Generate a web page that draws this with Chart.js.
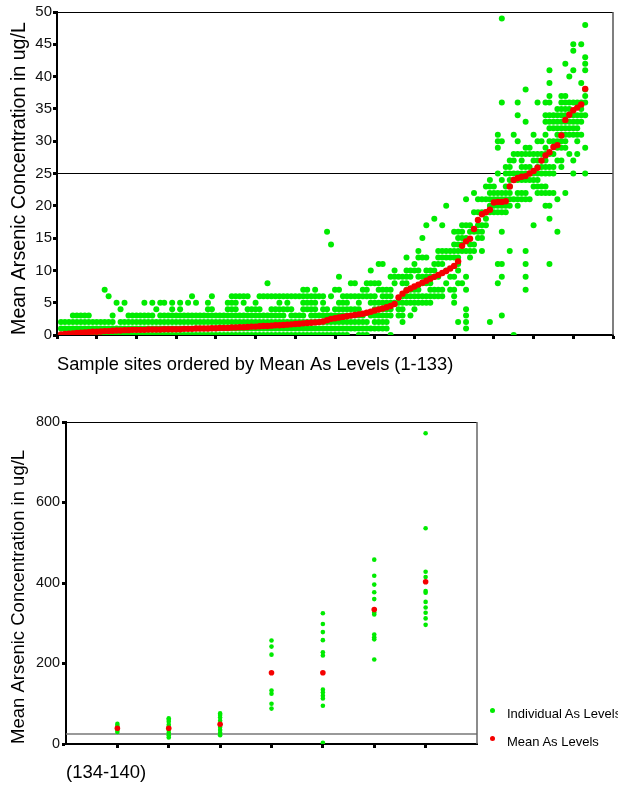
<!DOCTYPE html>
<html>
<head>
<meta charset="utf-8">
<title>Arsenic levels per sample site</title>
<script src="https://cdn.jsdelivr.net/npm/chart.js@4.4.1/dist/chart.umd.min.js"></script>
<style>
  html, body { margin: 0; padding: 0; background: #fff; }
  body { width: 618px; height: 789px; position: relative; overflow: hidden; font-family: "Liberation Sans", Arial, sans-serif; }
  #top-box { position: absolute; left: 0; top: 0; width: 618px; height: 395px; }
  #bottom-box { position: absolute; left: 0; top: 400px; width: 618px; height: 389px; }
  #legend { position: absolute; left: 490px; top: 699px; font-size: 13px; color: #000; white-space: nowrap; }
  .legend-item { display: flex; align-items: center; height: 28px; }
  .legend-dot { width: 5px; height: 5px; border-radius: 50%; margin-right: 12px; transform: translateY(-3px); }
</style>
</head>
<body>
<div id="top-box"><canvas id="js--chart--sites"></canvas></div>
<div id="bottom-box"><canvas id="js--chart--high"></canvas></div>
<div id="legend"></div>
<script>
// sites 1-133, mean arsenic (ug/L) per site, ordered
const meanLevels = [
  0.1, 0.15, 0.2, 0.25, 0.3, 0.35, 0.4, 0.45, 0.5, 0.5,
  0.55, 0.6, 0.6, 0.65, 0.7, 0.7, 0.75, 0.75, 0.8, 0.8,
  0.8, 0.8, 0.85, 0.85, 0.85, 0.85, 0.9, 0.9, 0.9, 0.9,
  0.9, 0.95, 0.95, 0.95, 1.0, 1.0, 1.0, 1.0, 1.05, 1.05,
  1.1, 1.1, 1.1, 1.15, 1.15, 1.2, 1.2, 1.25, 1.3, 1.3,
  1.35, 1.4, 1.4, 1.45, 1.5, 1.5, 1.55, 1.6, 1.65, 1.7,
  1.75, 1.8, 1.85, 1.9, 1.95, 2.0, 2.1, 2.3, 2.5, 2.6,
  2.7, 2.8, 2.9, 3.0, 3.1, 3.2, 3.3, 3.45, 3.6, 3.8,
  3.95, 4.1, 4.3, 4.5, 4.8, 5.8, 6.4, 6.9, 7.2, 7.5,
  7.8, 8.1, 8.4, 8.7, 9.0, 9.3, 9.6, 9.9, 10.3, 10.7,
  11.4, 13.8, 14.5, 14.9, 16.4, 17.8, 18.7, 19.0, 19.4, 20.5,
  20.6, 20.6, 20.7, 23.0, 24.0, 24.3, 24.5, 24.6, 25.0, 25.4,
  25.9, 27.0, 27.8, 28.3, 29.1, 29.4, 30.9, 33.3, 34.1, 34.8,
  35.2, 35.7, 38.1
];

// individual samples per site (same order as meanLevels)
const individualLevels = [
  [0,1,2], [0,1,2], [0,1,2], [0,1,2,3], [0,1,2,3],
  [0,1,2,3], [0,1,2,3], [0,1,2,3], [0,1,2], [0,1,2],
  [0,1,2], [0,1,2,7], [0,1,2,6], [0,1,2,3], [0,1,5],
  [0,1,2,4], [0,1,2,5], [0,1,2,3], [0,1,2,3], [0,1,2,3],
  [0,1,2,3], [0,1,2,3,5], [0,1,2,3], [0,1,2,3,5], [0,1,2,4],
  [0,1,2,3,5], [0,1,2,3,5], [0,1,2,3], [0,1,2,3,4,5], [0,1,2,3],
  [0,1,2,3,4,5], [0,1,2,3], [0,1,2,3,5], [0,1,2,3,6], [0,1,2,3,5],
  [0,1,2,3], [0,1,2,3], [0,1,2,3,4,5], [0,1,2,3,4,6], [0,1,2,3],
  [0,1,2,3], [0,1,2,3], [0,1,2,3,4,5], [0,1,2,3,4,5,6], [0,1,2,3,4,5,6],
  [0,1,2,3,6], [0,1,2,3,5,6], [0,1,2,3,4,6], [0,1,2,3,4], [0,1,2,3,4,5],
  [0,1,2,3,4,6], [0,1,2,3,6], [0,1,2,3,6,8], [0,1,2,3,4,6], [0,1,2,3,4,6],
  [0,1,2,3,4,5,6], [0,1,2,3,4,6], [0,1,2,4,5,6], [0,1,2,3,4,6], [0,1,2,3,6],
  [0,1,2,3,6], [0,1,2,3,4,5,6,7], [0,1,2,4,5,6,7], [0,1,2,3,4,5,6], [0,1,2,3,4,5,6,7],
  [0,1,2,3,6], [0,1,2,3,4,5,6], [0,1,2,3,4,16], [0,1,2,3,6,14], [0,1,2,3,4,7],
  [0,1,2,3,4,5,7,9], [0,1,2,3,4,5,6], [0,1,2,3,4,5,6], [1,2,3,4,6,8], [1,2,3,4,6,8],
  [0,1,2,3,4,5,6], [0,1,2,3,6,7], [0,1,2,6,7,8], [1,3,5,6,8,10], [1,2,3,4,5,6,8],
  [1,2,3,4,5,7,8,11], [1,2,3,4,5,6,7,11], [1,2,3,4,5,6,7], [0,3,4,5,6,7,9], [5,8,9,10],
  [3,4,5,9], [2,3,4,5,6,8,9], [5,6,7,8,9,10,12], [3,5,6,7,9,10], [4,5,6,7,10,11],
  [5,6,7,9,10,12,13], [5,6,8,9,12,15], [5,6,8,9,10,12,17], [5,6,7,8,9,10], [6,7,9,10,11,18],
  [6,7,9,11,12,13], [6,7,11,12,13,17], [8,10,12,13,20], [7,9,12,13], [5,6,7,9,12,13,14,16],
  [2,8,10,11,12,13,14,15,16], [8,13,14,15,16,17], [1,2,3,4,7,9,13,15,17,21], [12,13,14,16,17], [13,14,16,19,22],
  [15,16,17,19,21], [13,15,16,17,19,21], [17,18,19,21,23], [2,19,20,21,22,23,24], [19,20,21,22,23],
  [8,11,19,20,21,22,25,29,30,31], [3,9,11,16,19,20,21,22,24,30,36,49], [19,20,21,22,23,25,26],
  [13,20,21,22,23,24,25,26,27], [0,21,24,25,27,28,31],
  [20,21,22,24,25,28,30,34,36], [21,22,24,25,26,27,28], [7,9,11,13,21,22,24,25,26,28,29,33,38],
  [21,24,25,26,28,29], [17,23,24,25,27,28,31],
  [22,23,24,25,26,27,28,30,36], [22,23,25,26,27,28,30], [20,22,23,25,26,27,28,29,31,33,34,36],
  [11,18,20,22,25,26,28,30,32,33,34,36,37,39,41], [22,25,26,28,30,32,33,34],
  [16,21,27,29,30,31,32,33,34,35], [26,27,29,30,31,32,33,34,35,36,37], [22,29,30,31,32,33,34,35,36,37,42],
  [28,31,32,33,34,35,36,40], [25,27,31,32,33,34,36,41,44,45],
  [28,30,31,32,33,34,36], [31,33,34,35,36,39,45], [25,29,34,36,37,38,41,42,43,48]
];

// sites 134-140 (very high levels)
const highSites = [134, 135, 136, 137, 138, 139, 140];
const highMeanLevels = [39, 39, 49, 177, 177, 334, 403];
const highIndividualLevels = [
  [30, 35, 40, 45, 50],
  [16, 22, 28, 35, 42, 48, 55, 60, 64],
  [22, 28, 35, 42, 58, 66, 72, 76],
  [88, 100, 125, 133, 222, 242, 257],
  [3, 95, 113, 120, 128, 135, 220, 228, 258, 278, 298, 325],
  [210, 260, 265, 272, 322, 327, 360, 377, 396, 418, 458],
  [296, 312, 326, 339, 353, 376, 380, 415, 428, 536, 772]
];

const limitLevel = 25;
const yAxisTitle = 'Mean Arsenic Concentration in ug/L';

const GREEN = 'rgb(0, 235, 0)';
const RED = 'rgb(245, 0, 0)';

Chart.defaults.font.family = '"Liberation Sans", Arial, sans-serif';
Chart.defaults.color = '#000';

const siteNumbers = meanLevels.map((v, i) => i + 1);

function toPoints(sites, lists) {
  return sites.flatMap((s, i) => lists[i].map(v => ({ x: s, y: v })));
}

// thin frame on top and right side of the plot area
const framePlugin = {
  id: 'frame',
  afterDraw(chart, args, opts) {
    const { ctx, chartArea } = chart;
    ctx.save();
    ctx.lineWidth = 1;
    ctx.strokeStyle = opts.top || '#000';
    ctx.beginPath();
    ctx.moveTo(chartArea.left, Math.round(chartArea.top) + 0.5);
    ctx.lineTo(chartArea.right, Math.round(chartArea.top) + 0.5);
    ctx.stroke();
    ctx.lineWidth = 1.5;
    ctx.strokeStyle = opts.right || '#666';
    ctx.beginPath();
    ctx.moveTo(chartArea.right, chartArea.top);
    ctx.lineTo(chartArea.right, chartArea.bottom);
    ctx.stroke();
    ctx.restore();
  }
};

function tickGrid() {
  return { drawOnChartArea: false, drawTicks: true, tickLength: 4, tickWidth: 3, color: '#000' };
}

const sitesCtx = document.getElementById('js--chart--sites');

if (sitesCtx) {
  new Chart(sitesCtx, {
    type: 'scatter',
    data: {
      datasets: [
        {
          label: 'Individual As Levels',
          data: toPoints(siteNumbers, individualLevels),
          backgroundColor: GREEN,
          borderWidth: 0,
          pointRadius: 3,
          order: 1,
          clip: { left: 6, top: 6, right: 6, bottom: 0 }
        },
        {
          label: 'Mean As Levels',
          data: siteNumbers.map((s, i) => ({ x: s, y: meanLevels[i] })),
          backgroundColor: RED,
          borderWidth: 0,
          pointRadius: 3.2,
          order: 0,
          clip: { left: 6, top: 6, right: 6, bottom: 0 }
        },
        {
          type: 'line',
          label: 'limit',
          data: [{ x: 0, y: limitLevel }, { x: 140, y: limitLevel }],
          borderColor: '#000',
          borderWidth: 1,
          pointRadius: 0,
          order: 2
        }
      ]
    },
    options: {
      responsive: true,
      maintainAspectRatio: false,
      animation: false,
      layout: { padding: { top: 12, right: 5, left: 0, bottom: 0 } },
      scales: {
        x: {
          type: 'linear',
          min: 0,
          max: 140,
          ticks: { stepSize: 10, display: false },
          grid: tickGrid(),
          border: { color: '#000', width: 2 },
          title: {
            display: true,
            text: 'Sample sites ordered by Mean As Levels (1-133)',
            align: 'start',
            font: { size: 18.3 },
            padding: { top: 0, bottom: 19 }
          },
          afterFit: scale => { scale.height = 60; }
        },
        y: {
          min: 0,
          max: 50,
          ticks: { stepSize: 5, padding: 1, font: { size: 15 }, color: '#111' },
          grid: tickGrid(),
          border: { color: '#000', width: 2 },
          title: {
            display: true,
            text: yAxisTitle,
            align: 'start',
            font: { size: 19.7 },
            padding: { top: 8, bottom: 0 }
          },
          afterFit: scale => { scale.width = 57; }
        }
      },
      plugins: {
        legend: { display: false },
        tooltip: { enabled: false },
        frame: { top: '#000', right: '#555' }
      }
    },
    plugins: [framePlugin]
  });
}

const highCtx = document.getElementById('js--chart--high');

if (highCtx) {
  const highChart = new Chart(highCtx, {
    type: 'scatter',
    data: {
      datasets: [
        {
          label: 'Individual As Levels',
          data: toPoints(highSites, highIndividualLevels),
          backgroundColor: GREEN,
          borderWidth: 0,
          pointRadius: 2.3,
          order: 1
        },
        {
          label: 'Mean As Levels',
          data: highSites.map((s, i) => ({ x: s, y: highMeanLevels[i] })),
          backgroundColor: RED,
          borderWidth: 0,
          pointRadius: 2.8,
          order: 0
        },
        {
          type: 'line',
          label: 'limit',
          data: [{ x: 133, y: limitLevel }, { x: 141, y: limitLevel }],
          borderColor: '#777',
          borderWidth: 1.5,
          pointRadius: 0,
          order: 2
        }
      ]
    },
    options: {
      responsive: true,
      maintainAspectRatio: false,
      animation: false,
      layout: { padding: { top: 22, right: 141, left: 0, bottom: 0 } },
      scales: {
        x: {
          type: 'linear',
          min: 133,
          max: 141,
          ticks: { display: false },
          afterBuildTicks: scale => { scale.ticks = highSites.map(v => ({ value: v })); },
          grid: tickGrid(),
          border: { color: '#000', width: 2 },
          title: {
            display: true,
            text: '(134-140)',
            align: 'start',
            font: { size: 18.5 },
            padding: { top: 0, bottom: 5 }
          },
          afterFit: scale => { scale.height = 45; }
        },
        y: {
          min: 0,
          max: 800,
          ticks: { stepSize: 200, padding: 2, font: { size: 14.4 }, color: '#111' },
          grid: tickGrid(),
          border: { color: '#000', width: 2 },
          title: {
            display: true,
            text: yAxisTitle,
            align: 'start',
            font: { size: 18.5 },
            padding: { top: 8, bottom: 0 }
          },
          afterFit: scale => { scale.width = 66; }
        }
      },
      plugins: {
        legend: { display: false },
        tooltip: { enabled: false },
        frame: { top: '#000', right: '#666' }
      }
    },
    plugins: [framePlugin]
  });

  // legend as html, taken from the chart's own legend items
  const legendEl = document.getElementById('legend');
  Chart.defaults.plugins.legend.labels.generateLabels(highChart)
    .filter(item => item.text !== 'limit')
    .sort((a, b) => a.datasetIndex - b.datasetIndex)
    .forEach(item => {
      const row = document.createElement('div');
      row.className = 'legend-item';
      const dot = document.createElement('span');
      dot.className = 'legend-dot';
      dot.style.background = item.fillStyle;
      const text = document.createElement('span');
      text.textContent = item.text;
      row.appendChild(dot);
      row.appendChild(text);
      legendEl.appendChild(row);
    });
}
</script>
</body>
</html>
